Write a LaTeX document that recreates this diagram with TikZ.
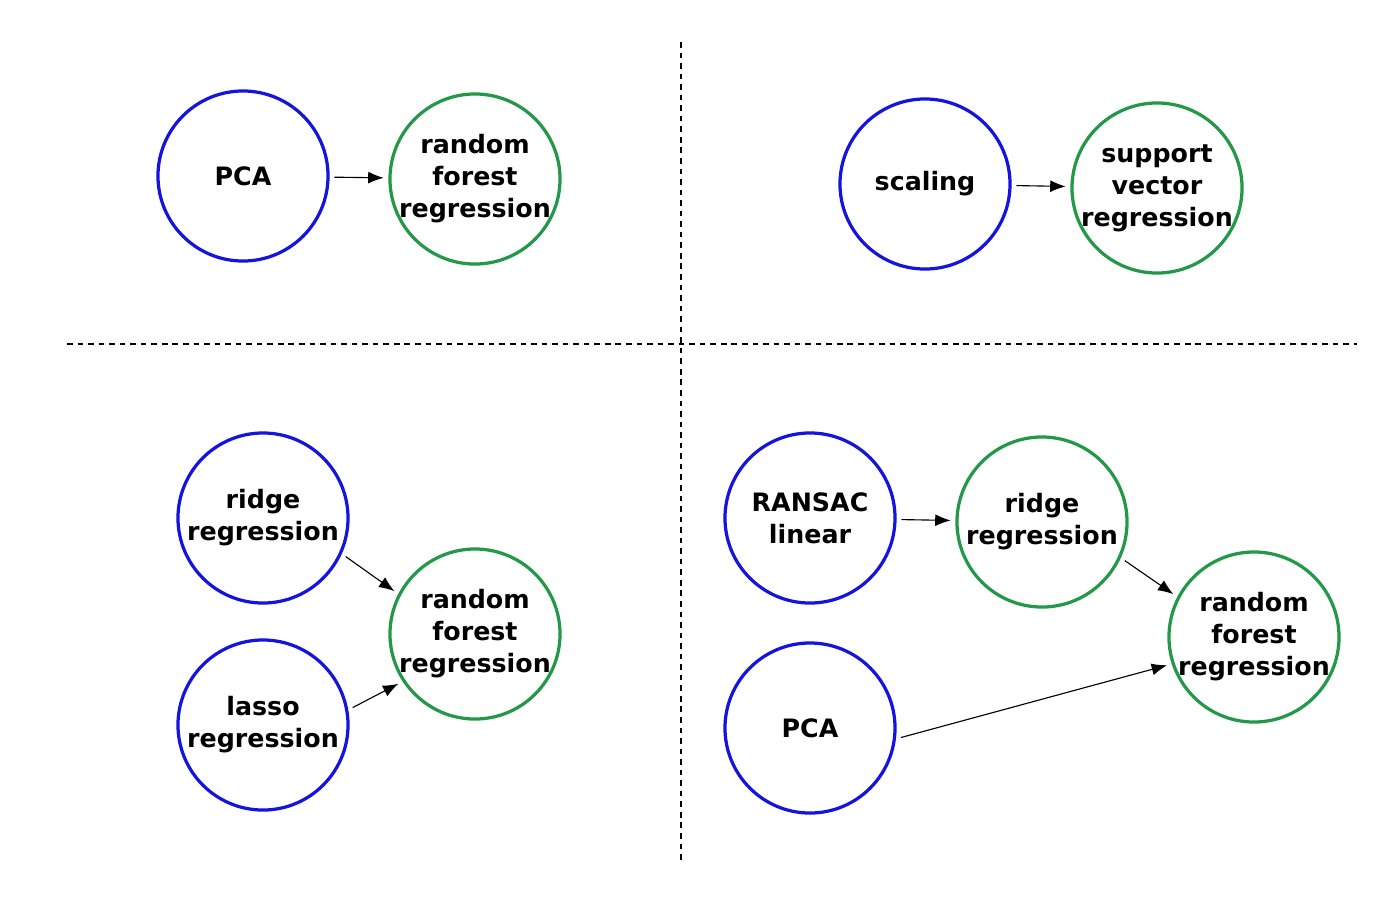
\documentclass[tikz,border=0pt]{standalone}
\usepackage{fontspec}
\setmainfont{DejaVu Sans}
\usetikzlibrary{arrows.meta}

\definecolor{stepblue}{RGB}{20,20,222}
\definecolor{modelgreen}{RGB}{34,152,72}

\tikzset{
	pre/.style={circle, draw=stepblue, line width=2.3pt, minimum size=4.25cm, inner sep=-6pt, outer sep=4.5pt, align=center, font=\fontsize{18}{22.8}\selectfont\bfseries},
	model/.style={pre, draw=modelgreen},
	link/.style={-{Latex[length=11pt,width=8.5pt]}, line width=0.8pt},
	split/.style={dashed, line width=0.8pt, dash pattern=on 4pt off 3.5pt}
}

\begin{document}
\begin{tikzpicture}[x=0.025cm, y=-0.025cm]
				\useasboundingbox (0,0) rectangle (1400,910);
				
				\node[pre] (PCA) at (243,176) {PCA};
				\node[model] (RF) at (475,179) {random\\forest\\regression};
				\node[pre] (Scaling) at (925,184) {scaling};
				\node[model] (SVR) at (1157,188) {support\\vector\\regression};
				\node[pre] (Ridge) at (263,518) {ridge\\regression};
				\node[pre] (Lasso) at (263,725) {lasso\\regression};
				\node[model] (RFB) at (475,634) {random\\forest\\regression};
				\node[pre] (RANSAC) at (810,518) {RANSAC\\linear};
				\node[model] (RidgeB) at (1042,522) {ridge\\regression};
				\node[model] (RFC) at (1254,637) {random\\forest\\regression};
				\node[pre] (PCAB) at (810,728) {PCA};
				
				\coordinate (VTop) at (681,42);
				\coordinate (VBot) at (681,862);
				\coordinate (HLeft) at (67,344);
				\coordinate (HRight) at (1357,344);
				\draw[split] (VTop) -- (VBot);
				\draw[split] (HLeft) -- (HRight);
				
				\draw[link] (PCA) -- (RF);
				\draw[link] (Scaling) -- (SVR);
				\draw[link] (Ridge.-25) -- (RFB.152);
				\draw[link] (Lasso.11) -- (RFB.213);
				\draw[link] (RANSAC) -- (RidgeB);
				\draw[link] (RidgeB.-25) -- (RFC.152);
				\draw[link] (PCAB.-6) -- (RFC.198);
				
			\end{tikzpicture}
\end{document}
